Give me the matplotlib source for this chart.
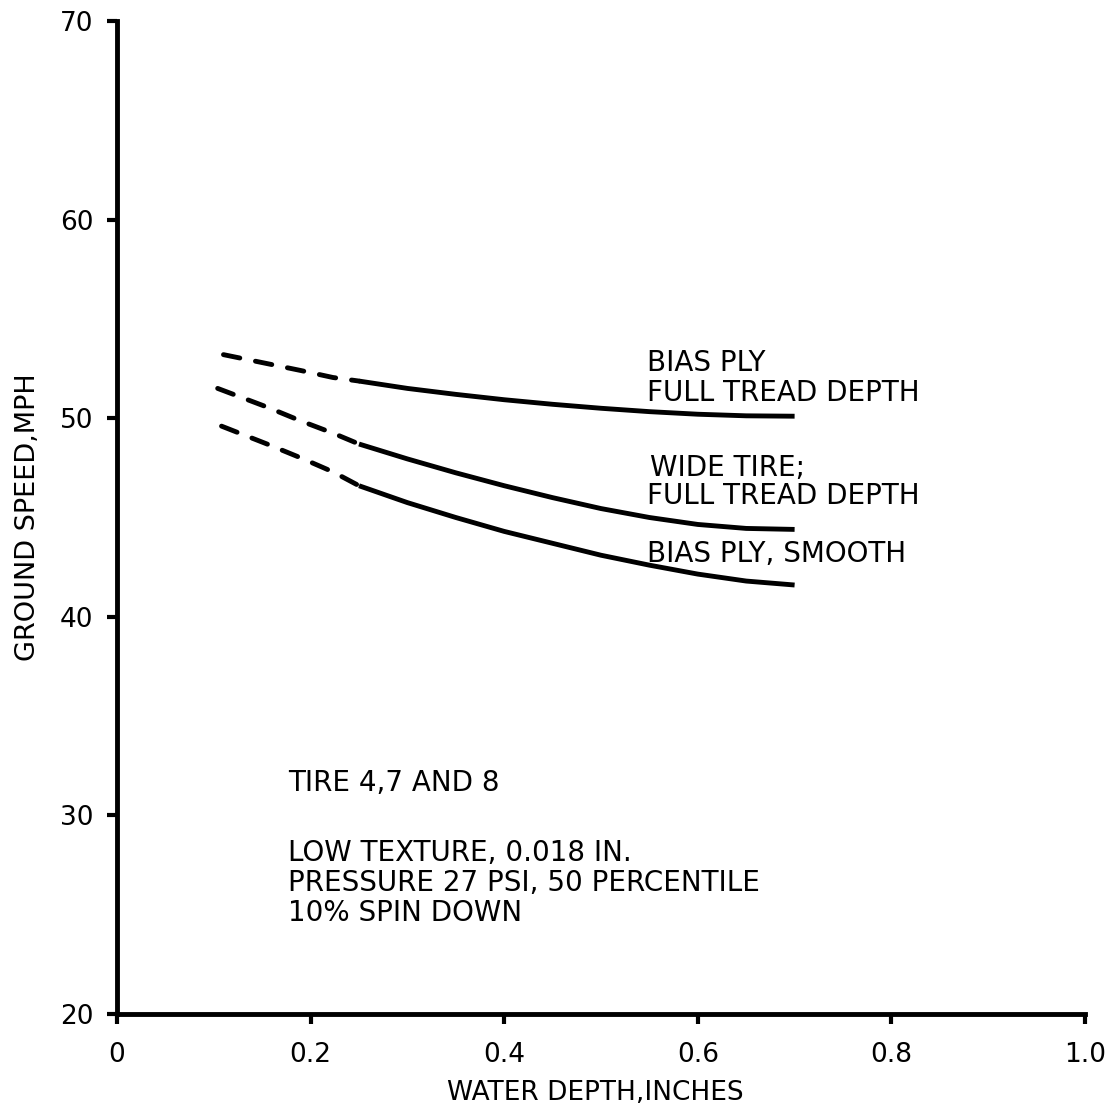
import matplotlib
matplotlib.use("Agg")
import matplotlib.pyplot as plt

plt.rcParams['font.family'] = ['DejaVu Sans']
plt.rcParams['lines.scale_dashes'] = False

# values (water depth in inches, ground speed in mph)
bias_full_dash_x = [0.11, 0.155, 0.19, 0.223, 0.25]
bias_full_dash_y = [53.2, 52.75, 52.4, 52.05, 51.87]
wide_full_dash_x = [0.104, 0.155, 0.19, 0.223, 0.25]
wide_full_dash_y = [51.5, 50.56, 49.86, 49.25, 48.7]
bias_smooth_dash_x = [0.108, 0.155, 0.19, 0.223, 0.25]
bias_smooth_dash_y = [49.6, 48.7, 48.0, 47.3, 46.6]

solid_x = [0.25, 0.30, 0.35, 0.40, 0.45, 0.50, 0.55, 0.60, 0.65, 0.70]
bias_full_y = [51.87, 51.5, 51.2, 50.93, 50.7, 50.5, 50.33, 50.2, 50.12, 50.1]
wide_full_y = [48.7, 47.95, 47.25, 46.6, 46.0, 45.45, 45.0, 44.65, 44.45, 44.4]
bias_smooth_y = [46.6, 45.75, 45.0, 44.3, 43.7, 43.1, 42.6, 42.15, 41.8, 41.6]

xticks = [0, 0.2, 0.4, 0.6, 0.8, 1.0]
xticklabels = ["0", "0.2", "0.4", "0.6", "0.8", "1.0"]
yticks = [20, 30, 40, 50, 60, 70]

curve_labels = [
    (0.548, 52.83, "BIAS PLY"),
    (0.548, 51.32, "FULL TREAD DEPTH"),
    (0.551, 47.54, "WIDE TIRE;"),
    (0.548, 46.13, "FULL TREAD DEPTH"),
    (0.548, 43.21, "BIAS PLY, SMOOTH"),
]
notes = [
    (0.177, 31.68, "TIRE 4,7 AND 8"),
    (0.177, 28.11, "LOW TEXTURE, 0.018 IN."),
    (0.177, 26.60, "PRESSURE 27 PSI, 50 PERCENTILE"),
    (0.177, 25.09, "10% SPIN DOWN"),
]

fig = plt.figure(figsize=(11.07, 11.18), dpi=100)
ax = fig.add_axes([117 / 1107, 1 - 1014 / 1118, 968 / 1107, 993 / 1118])

lw = 3.5
dash = (0, (12, 11.5))
for dx, dy, sy in [(bias_full_dash_x, bias_full_dash_y, bias_full_y),
                   (wide_full_dash_x, wide_full_dash_y, wide_full_y),
                   (bias_smooth_dash_x, bias_smooth_dash_y, bias_smooth_y)]:
    ax.plot(dx, dy, color='black', lw=lw, linestyle=dash, dash_capstyle='round')
    ax.plot(solid_x, sy, color='black', lw=lw, solid_capstyle='butt',
            solid_joinstyle='round')

ax.set_xlim(0, 1.0)
ax.set_ylim(20, 70)
ax.set_xticks(xticks)
ax.set_xticklabels(xticklabels)
ax.set_yticks(yticks)

for side in ['top', 'right']:
    ax.spines[side].set_visible(False)
for side in ['left', 'bottom']:
    ax.spines[side].set_linewidth(3.5)
    ax.spines[side].set_capstyle('projecting')

ax.tick_params(axis='y', direction='out', length=7, width=3, pad=10, labelsize=19)
ax.tick_params(axis='x', direction='out', length=7, width=3, pad=13, labelsize=19)

off = 0.43
for x, y, t in curve_labels:
    ax.text(x, y - off, t, fontsize=20, ha='left', va='baseline')
for x, y, t in notes:
    ax.text(x, y - off, t, fontsize=20, ha='left', va='baseline')

fig.text(595 / 1107, 1 - 1093 / 1118, "WATER DEPTH,INCHES", fontsize=19,
         ha='center', va='center')
fig.text(28 / 1107, 1 - 517 / 1118, "GROUND SPEED,MPH", fontsize=19.5,
         ha='center', va='center', rotation=90)

fig.savefig("out.png", dpi=100, facecolor='white')
